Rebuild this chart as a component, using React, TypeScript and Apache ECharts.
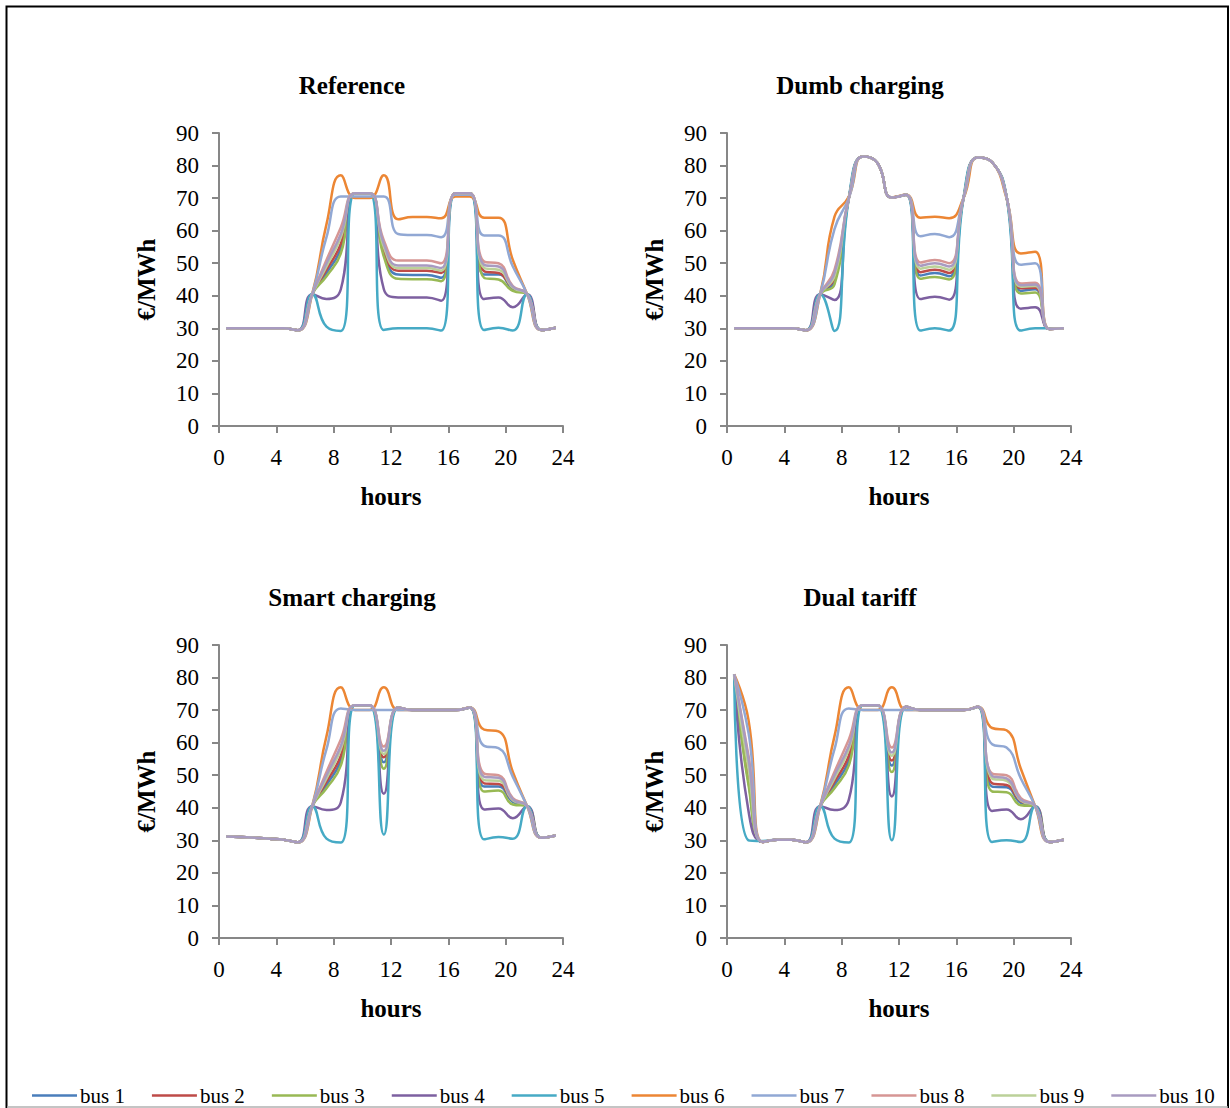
import React, { useEffect, useRef } from "react";
import * as echarts from "echarts";

const hours = [0.5, 1.5, 2.5, 3.5, 4.5, 5.5, 6.5, 7.5, 8.5, 9.5, 10.5, 11.5, 12.5, 13.5, 14.5, 15.5, 16.5, 17.5, 18.5, 19.5, 20.5, 21.5, 22.5, 23.5];
const busNames = ["bus 1", "bus 2", "bus 3", "bus 4", "bus 5", "bus 6", "bus 7", "bus 8", "bus 9", "bus 10"];
const busColors = ["#4A7EBB", "#BE4B48", "#98B954", "#7D60A0", "#46AAC5", "#EC8634", "#91A8D4", "#D69694", "#BBD199", "#A89BC0"];
const panelTitles = ["Reference", "Dumb charging", "Smart charging", "Dual tariff"];

// €/MWh by hour, one row per bus
const referencePrices = [
  [30, 30, 30, 30, 30, 29.4, 40.5, 47, 54.5, 71.5, 71.5, 53, 46.5, 46.4, 46.4, 45.5, 71.5, 71.5, 46.5, 46.5, 42, 40.5, 29.5, 30.2],
  [30, 30, 30, 30, 30, 29.4, 40.5, 48, 56, 71.5, 71.5, 54, 47.7, 47.7, 47.7, 47, 71.5, 71.5, 47.5, 47, 42.5, 40.5, 29.5, 30.2],
  [30, 30, 30, 30, 30, 29.4, 40.5, 46, 53, 71.5, 71.5, 52, 45.2, 45.1, 45.1, 44.5, 71.5, 71.5, 45.5, 45, 41.5, 40.5, 29.5, 30.2],
  [30, 30, 30, 30, 30, 29.4, 40.5, 39, 42, 71.5, 71.5, 42, 39.5, 39.5, 39.5, 38.5, 71.5, 71.5, 39, 39.5, 36.5, 40.5, 29.5, 30.2],
  [30, 30, 30, 30, 30, 29.4, 40.5, 30.5, 29.2, 71.5, 71.5, 29.5, 30, 30, 30, 29.3, 71.5, 71.5, 29.5, 30.2, 29.3, 40.5, 29.5, 30.2],
  [30, 30, 30, 30, 30, 29.4, 40.5, 62, 77, 70, 70, 77, 63.5, 64.2, 64.2, 63.8, 70.5, 70.5, 64, 64, 51, 40.5, 29.5, 30.2],
  [30, 30, 30, 30, 30, 29.4, 40.5, 58, 70.5, 70.5, 70.5, 70.5, 59, 58.7, 58.7, 58, 71, 71, 58.5, 58.5, 49, 40.5, 29.5, 30.2],
  [30, 30, 30, 30, 30, 29.4, 40.5, 51, 61, 71.5, 71.5, 57, 50.8, 50.8, 50.8, 50, 71.5, 71.5, 50.5, 50, 43, 40.5, 29.5, 30.2],
  [30, 30, 30, 30, 30, 29.4, 40.5, 49, 58, 71.5, 71.5, 55, 48.5, 48.5, 48.5, 47.7, 71.5, 71.5, 48.5, 48, 42.5, 40.5, 29.5, 30.2],
  [30, 30, 30, 30, 30, 29.4, 40.5, 50, 59, 71.5, 71.5, 56, 49.3, 49.3, 49.3, 48.5, 71.5, 71.5, 49.5, 49, 42.8, 40.5, 29.5, 30.2],
];

const dumbPrices = [
  [30, 30, 30, 30, 30, 29.4, 40.5, 44.5, 70, 82.8, 80.8, 70.2, 71, 46.2, 47, 46, 70, 82.5, 81, 70.5, 41.5, 42, 29.8, 30],
  [30, 30, 30, 30, 30, 29.4, 40.5, 45.5, 70, 82.8, 80.8, 70.2, 71, 47.2, 48, 47, 70, 82.5, 81, 70.5, 42.3, 42.5, 29.8, 30],
  [30, 30, 30, 30, 30, 29.4, 40.5, 43.5, 70, 82.8, 80.8, 70.2, 71, 45.2, 45.8, 45, 70, 82.5, 81, 70.5, 40.7, 41, 29.8, 30],
  [30, 30, 30, 30, 30, 29.4, 40.5, 38.7, 70, 82.8, 80.8, 70.2, 71, 39, 39.7, 38.8, 70, 82.5, 81, 70.5, 36, 36.5, 29.8, 30],
  [30, 30, 30, 30, 30, 29.4, 40.5, 29.2, 70, 82.8, 80.8, 70.2, 71, 29.3, 30, 29.3, 70, 82.5, 81, 70.5, 29.3, 30, 30, 30],
  [30, 30, 30, 30, 30, 29.4, 40.5, 64.3, 70.5, 82.8, 80.8, 70.2, 71, 64, 64.3, 63.8, 70, 82.5, 81, 70, 53, 53.5, 29.8, 30],
  [30, 30, 30, 30, 30, 29.4, 40.5, 60.5, 70, 82.8, 80.8, 70.2, 71, 58.3, 59, 58, 70, 82.5, 81, 70.3, 49.5, 50, 29.8, 30],
  [30, 30, 30, 30, 30, 29.4, 40.5, 48, 70, 82.8, 80.8, 70.2, 71, 50.2, 51, 50, 70, 82.5, 81, 70.5, 43.8, 44, 29.8, 30],
  [30, 30, 30, 30, 30, 29.4, 40.5, 46, 70, 82.8, 80.8, 70.2, 71, 48.3, 49, 48, 70, 82.5, 81, 70.5, 42.8, 43, 29.8, 30],
  [30, 30, 30, 30, 30, 29.4, 40.5, 47, 70, 82.8, 80.8, 70.2, 71, 49.2, 50, 49, 70, 82.5, 81, 70.5, 43.2, 43.5, 29.8, 30],
];

const smartPrices = [
  [31.2, 31, 30.8, 30.5, 30.2, 29.4, 40.5, 47, 54.5, 71.5, 71.5, 54, 70.8, 70, 70, 70, 70, 70.8, 46.5, 46.5, 41.8, 40.5, 30.8, 31.5],
  [31.2, 31, 30.8, 30.5, 30.2, 29.4, 40.5, 48, 56, 71.5, 71.5, 55.5, 70.8, 70, 70, 70, 70, 70.8, 47.5, 47.3, 42.3, 40.5, 30.8, 31.5],
  [31.2, 31, 30.8, 30.5, 30.2, 29.4, 40.5, 46, 53, 71.5, 71.5, 52, 70.8, 70, 70, 70, 70, 70.8, 45, 45.3, 41, 40.5, 30.8, 31.5],
  [31.2, 31, 30.8, 30.5, 30.2, 29.4, 40.5, 39.3, 41.7, 71.5, 71.5, 44.3, 70.8, 70, 70, 70, 70, 70.8, 39.5, 39.8, 36.8, 40.5, 30.8, 31.5],
  [31.2, 31, 30.8, 30.5, 30.2, 29.4, 40.5, 30.5, 29.3, 71.5, 71.5, 31.8, 70.8, 70, 70, 70, 70, 70.8, 30.3, 31, 30.5, 40.5, 30.8, 31.5],
  [31.2, 31, 30.8, 30.5, 30.2, 29.4, 40.5, 62, 77, 70, 70, 77, 70, 70, 70, 70, 70, 70.8, 64, 63.5, 51, 40.5, 30.8, 31.5],
  [31.2, 31, 30.8, 30.5, 30.2, 29.4, 40.5, 58, 70.5, 70, 70, 70, 70, 70, 70, 70, 70, 70.8, 59, 58.3, 49.5, 40.5, 30.8, 31.5],
  [31.2, 31, 30.8, 30.5, 30.2, 29.4, 40.5, 51, 61, 71.5, 71.5, 58.8, 70.8, 70, 70, 70, 70, 70.8, 50.5, 50, 43, 40.5, 30.8, 31.5],
  [31.2, 31, 30.8, 30.5, 30.2, 29.4, 40.5, 49, 58, 71.5, 71.5, 56.5, 70.8, 70, 70, 70, 70, 70.8, 48.5, 48.3, 42.3, 40.5, 30.8, 31.5],
  [31.2, 31, 30.8, 30.5, 30.2, 29.4, 40.5, 50, 59, 71.5, 71.5, 57.5, 70.8, 70, 70, 70, 70, 70.8, 49.5, 49.2, 42.6, 40.5, 30.8, 31.5],
];

const dualPrices = [
  [81, 48, 29.5, 30.2, 30.2, 29.4, 40.5, 47, 54.5, 71.5, 71.5, 53, 71, 70, 70, 70, 70, 71, 46.5, 46.3, 41.5, 40.5, 29.5, 30.2],
  [81, 50, 29.5, 30.2, 30.2, 29.4, 40.5, 48, 56, 71.5, 71.5, 54.5, 71, 70, 70, 70, 70, 71, 47.5, 47, 42, 40.5, 29.5, 30.2],
  [81, 47, 29.5, 30.2, 30.2, 29.4, 40.5, 46, 53, 71.5, 71.5, 51, 71, 70, 70, 70, 70, 71, 45, 44.8, 40.8, 40.5, 29.5, 30.2],
  [81, 39, 29.5, 30.2, 30.2, 29.4, 40.5, 39.3, 42.5, 71.5, 71.5, 43.5, 71, 70, 70, 70, 70, 71, 39, 39.5, 36.5, 40.5, 29.5, 30.2],
  [81, 30, 29.8, 30.2, 30.2, 29.4, 40.5, 30.5, 29.3, 71.5, 71.5, 30, 71, 70, 70, 70, 70, 71, 29.5, 30, 29.5, 40.5, 29.5, 30.2],
  [81, 67, 29.5, 30.2, 30.2, 29.4, 40.5, 62, 77, 70, 70, 77, 70, 70, 70, 70, 70, 71, 64.5, 63.8, 52, 40.5, 29.5, 30.2],
  [81, 63, 29.5, 30.2, 30.2, 29.4, 40.5, 58, 70.5, 70, 70, 70, 70, 70, 70, 70, 70, 71, 59.5, 58.5, 49, 40.5, 29.5, 30.2],
  [81, 56, 29.5, 30.2, 30.2, 29.4, 40.5, 51, 61, 71.5, 71.5, 58.5, 71, 70, 70, 70, 70, 71, 50.5, 50, 43, 40.5, 29.5, 30.2],
  [81, 52, 29.5, 30.2, 30.2, 29.4, 40.5, 49, 58, 71.5, 71.5, 56, 71, 70, 70, 70, 70, 71, 49, 48.3, 42.2, 40.5, 29.5, 30.2],
  [81, 55, 29.5, 30.2, 30.2, 29.4, 40.5, 50, 59, 71.5, 71.5, 57, 71, 70, 70, 70, 70, 71, 49.8, 49, 42.5, 40.5, 29.5, 30.2],
];

const panels = [referencePrices, dumbPrices, smartPrices, dualPrices];

const FONT = "Liberation Serif";
const gridBoxes = [
  { left: 219, top: 133 },
  { left: 727, top: 133 },
  { left: 219, top: 645 },
  { left: 727, top: 645 },
];
const titlePos = [
  { x: 352, y: 85 },
  { x: 860, y: 85 },
  { x: 352, y: 597 },
  { x: 860, y: 597 },
];

export default function App() {
  const ref = useRef<HTMLDivElement>(null);
  useEffect(() => {
    if (!ref.current) return;
    const chart = echarts.init(ref.current, undefined, { renderer: "svg" });
    const axisColor = "#878787";
    const grid = gridBoxes.map((g) => ({ left: g.left, top: g.top, width: 344, height: 293, containLabel: false }));
    const xAxis = gridBoxes.map((_, i) => ({
      type: "value",
      gridIndex: i,
      min: 0,
      max: 24,
      interval: 4,
      name: "hours",
      nameLocation: "middle",
      nameGap: 58,
      nameTextStyle: { fontFamily: FONT, fontSize: 25, fontWeight: "bold", color: "#000" },
      axisLine: { show: true, lineStyle: { color: axisColor, width: 2 } },
      axisTick: { show: true, inside: false, length: 7, lineStyle: { color: axisColor, width: 2 } },
      axisLabel: { fontFamily: FONT, fontSize: 23, color: "#000", margin: 20, showMinLabel: true, showMaxLabel: true },
      splitLine: { show: false },
    }));
    const yAxis = gridBoxes.map((_, i) => ({
      type: "value",
      gridIndex: i,
      min: 0,
      max: 90,
      interval: 10,
      name: "€/MWh",
      nameLocation: "middle",
      nameGap: 60,
      nameRotate: 90,
      nameTextStyle: { fontFamily: FONT, fontSize: 25, fontWeight: "bold", color: "#000" },
      axisLine: { show: true, lineStyle: { color: axisColor, width: 2 } },
      axisTick: { show: true, inside: false, length: 7, lineStyle: { color: axisColor, width: 2 } },
      axisLabel: { fontFamily: FONT, fontSize: 23, color: "#000", margin: 20 },
      splitLine: { show: false },
    }));
    const series: any[] = [];
    panels.forEach((panel, p) => {
      panel.forEach((row, b) => {
        series.push({
          type: "line",
          name: busNames[b],
          xAxisIndex: p,
          yAxisIndex: p,
          data: hours.map((h, i) => [h, row[i]]),
          smooth: 0.5,
          showSymbol: false,
          symbol: "none",
          color: busColors[b],
          lineStyle: { width: 2.5, color: busColors[b] },
          emphasis: { disabled: true },
        });
      });
    });
    const graphic: any[] = [
      {
        type: "rect",
        shape: { x: 6.5, y: 6.5, width: 1221.5, height: 1130 },
        style: { fill: "none", stroke: "#000", lineWidth: 2 },
        silent: true,
      },
      {
        type: "line",
        shape: { x1: 7, y1: 1107, x2: 1228, y2: 1107 },
        style: { stroke: "#b0b0b0", lineWidth: 1.5 },
        silent: true,
      },
      ...panelTitles.map((t, i) => ({
        type: "text",
        x: titlePos[i].x,
        y: titlePos[i].y,
        style: {
          text: t,
          align: "center",
          verticalAlign: "middle",
          fontFamily: FONT,
          fontSize: 25,
          fontWeight: "bold",
          fill: "#000",
        },
      })),
    ];
    chart.setOption({
      animation: false,
      backgroundColor: "#fff",
      grid,
      xAxis,
      yAxis,
      series,
      graphic,
      legend: {
        data: busNames,
        left: 32,
        top: 1085,
        padding: 0,
        icon: "rect",
        itemWidth: 45,
        itemHeight: 2.5,
        itemGap: 27,
        textStyle: { fontFamily: FONT, fontSize: 21, color: "#000", padding: [0, 0, 0, -2] },
        selectedMode: false,
      },
    });
    return () => chart.dispose();
  }, []);
  return (
    <div
      ref={ref}
      style={{ position: "absolute", left: 0, top: 0, width: 1230, height: 1108, background: "#fff" }}
    />
  );
}
